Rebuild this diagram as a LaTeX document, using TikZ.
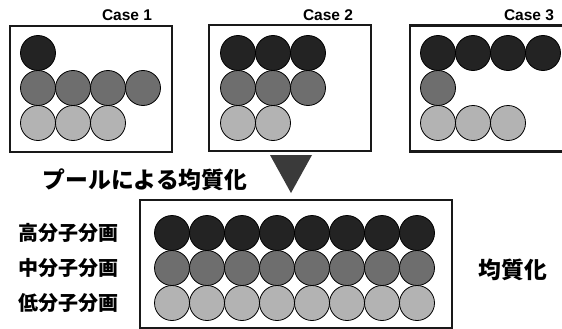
\documentclass[tikz,border=0pt]{standalone}
\usepackage{fontspec}
\setmainfont{Liberation Sans}
\newfontfamily\cjk{Noto Sans CJK JP}
\definecolor{dk}{HTML}{232323}
\definecolor{md}{HTML}{6E6E6E}
\definecolor{lt}{HTML}{B3B3B3}
\definecolor{tri}{HTML}{3A3A3A}
\begin{document}
\begin{tikzpicture}[x=1pt,y=-1pt,
  ball/.style={circle,draw=black,line width=0.8pt,minimum size=35pt,inner sep=0pt},
  bdk/.style={ball,fill=dk},
  bmd/.style={ball,fill=md},
  blt/.style={ball,fill=lt},
  casebox/.style={draw=black!90,line width=2.6pt,inner sep=0pt,minimum width=162pt,minimum height=126pt},
  caselabel/.style={font=\bfseries\fontsize{15.5}{15.5}\selectfont},
  jlabel/.style={font=\cjk\bfseries\fontsize{20}{20}\selectfont},
  jtitle/.style={font=\cjk\bfseries\fontsize{22.8}{22.8}\selectfont}]
\useasboundingbox (0,0) rectangle (562,329);
\clip (0,0) rectangle (562,329);
\fill[white] (0,0) rectangle (562,329);
% boxes
\node[casebox] (box1) at (91,89) {};
\node[casebox] (box2) at (290,88) {};
\node[casebox] (box3) at (491,88.5) {};
\node[casebox,minimum width=312pt,minimum height=128pt] (box4) at (296,264) {};
% labels
\node[caselabel] (c1) at (127,15) {Case 1};
\node[caselabel] (c2) at (328,15) {Case 2};
\node[caselabel] (c3) at (529,15) {Case 3};
% case 1
\node[bdk] (a11) at (38,53) {};
\foreach \i in {0,...,3} \node[bmd] (a2\i) at (38+35*\i,88) {};
\foreach \i in {0,...,2} \node[blt] (a3\i) at (38+35*\i,123) {};
% case 2
\foreach \i in {0,...,2} \node[bdk] (b1\i) at (238+35*\i,53) {};
\foreach \i in {0,...,2} \node[bmd] (b2\i) at (238+35*\i,88) {};
\foreach \i in {0,...,1} \node[blt] (b3\i) at (238+35*\i,123) {};
% case 3
\foreach \i in {0,...,3} \node[bdk] (d1\i) at (438+35*\i,53) {};
\node[bmd] (d20) at (438,88) {};
\foreach \i in {0,...,2} \node[blt] (d3\i) at (438+35*\i,123) {};
% result
\foreach \i in {0,...,7} {
  \node[bdk] (e1\i) at (172+35*\i,233) {};
  \node[bmd] (e2\i) at (172+35*\i,268) {};
  \node[blt] (e3\i) at (172+35*\i,303) {};
}
% triangle
\coordinate (tl) at (270,155);
\coordinate (tr) at (312,155);
\coordinate (tb) at (291,193);
\fill[tri] (tl) -- (tr) -- (tb) -- cycle;
% Japanese text
\node[jtitle] (title) at (145,180) {プールによる均質化};
\node[jlabel] (l1) at (68,233) {高分子分画};
\node[jlabel] (l2) at (68,268) {中分子分画};
\node[jlabel] (l3) at (68,303) {低分子分画};
\node[jtitle] (r) at (513,270) {均質化};
\end{tikzpicture}
\end{document}
